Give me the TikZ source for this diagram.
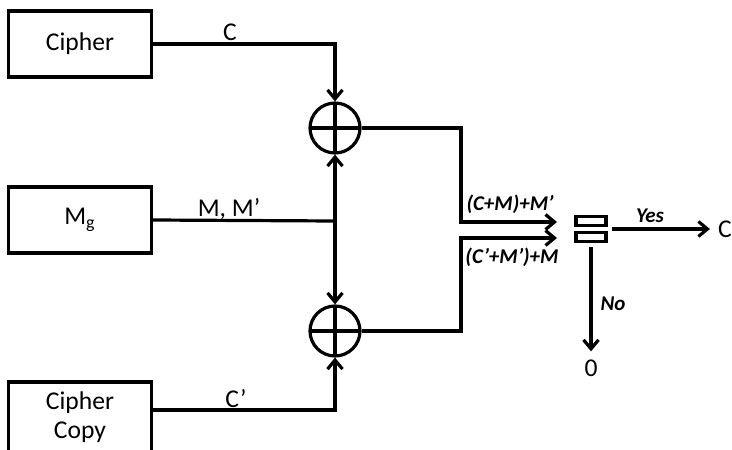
\documentclass[tikz,border=0pt]{standalone}
\usepackage{fontspec}
\setmainfont{Carlito}
\usetikzlibrary{arrows.meta,positioning}

\begin{document}
\begin{tikzpicture}[x=0.5pt,y=-0.5pt,line width=1.6pt,
  box/.style={draw,minimum width=71.5pt,minimum height=33pt,font=\fontsize{12.8}{14.5}\selectfont},
  xor/.style={draw,circle,minimum size=25pt,inner sep=0pt,
    path picture={\draw (path picture bounding box.north) -- (path picture bounding box.south)
      (path picture bounding box.west) -- (path picture bounding box.east);}},
  cmpbox/.style={draw,minimum width=15pt,minimum height=4.5pt,inner sep=0pt},
  lab/.style={font=\fontsize{12.8}{14.5}\selectfont},
  res/.style={font=\fontsize{10.5}{12}\selectfont\bfseries\itshape},
  arr/.style={-{Straight Barb[length=4.5pt,width=7.5pt]}}]
  \useasboundingbox (0,0) rectangle (732,449);
  % inputs
  \node[box] (cipher) at (80,44) {Cipher};
  \node[box] (msg) at (80,220) {M\textsubscript{g}};
  \node[box,minimum height=35pt,align=center] (copy) at (80,417) {Cipher\\Copy};
  % xor gates
  \node[xor] (xor1) at (335,128) {};
  \node[xor] (xor2) at (335,331) {};
  \coordinate (split) at (335,221);
  % comparator
  \node[cmpbox] (cmpa) at (591,221) {};
  \node[cmpbox] (cmpb) at (591,237) {};
  \coordinate (bend1) at (461,222);
  \coordinate (bend2) at (461,238);
  \coordinate (in1) at (557,222);
  \coordinate (in2) at (557,238);
  \coordinate (cmpout) at (612,229);
  \node[lab] (out) at (725,229) {C};
  \node[lab] (zero) at (591,368) {0};

  \draw[arr] (cipher.east) -| (xor1.north);
  \draw (msg.east) -- (split);
  \draw[arr] (split) -- (xor1.south);
  \draw[arr] (split) -- (xor2.north);
  \draw[arr] ([yshift=3.5pt]copy.east) -| (xor2.south);
  \draw[arr] (xor1.east) -| (bend1) -- (in1);
  \draw[arr] (xor2.east) -| (bend2) -- (in2);
  \draw[arr] (cmpout) -- (out.west);
  \draw[arr,shorten <=2pt] (cmpb.south) -- (zero.north);

  \node[lab] (lc) at (230,32) {C};
  \node[lab] (lm) at (229,209) {M, M’};
  \node[lab] (lc2) at (236,399) {C’};
  \node[res] (lsum1) at (510,204) {(C+M)+M’};
  \node[res] (lsum2) at (512,257) {(C’+M’)+M};
  \node[res] (lyes) at (650,216) {Yes};
  \node[res] (lno) at (613,304) {No};
\end{tikzpicture}
\end{document}
